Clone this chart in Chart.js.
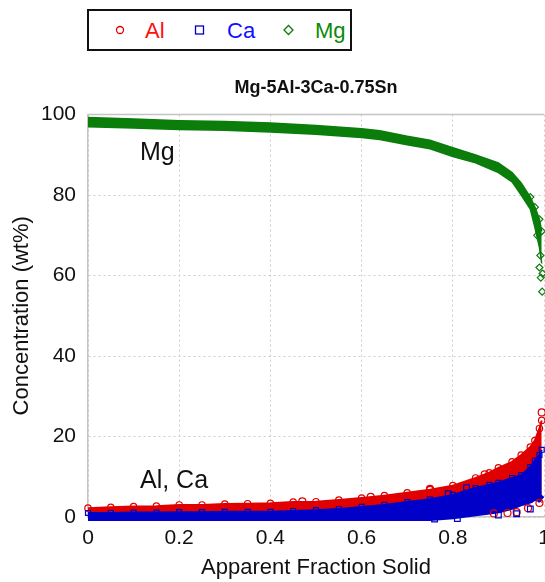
<!DOCTYPE html>
<html>
<head>
<meta charset="utf-8">
<script src="https://cdn.jsdelivr.net/npm/chart.js@4.4.1/dist/chart.umd.min.js"></script>
<style>
  html, body { margin: 0; padding: 0; background: #fff; overflow: hidden; width: 545px; height: 582px; }
  #wrap { position: relative; width: 600px; height: 582px; }
  #c { position: absolute; left: 0; top: 0; }
  #legend { position: absolute; left: 0; top: 0; }
</style>
</head>
<body>
<div id="wrap">
  <canvas id="c" width="600" height="582"></canvas>
  <svg id="legend" width="545" height="60" xmlns="http://www.w3.org/2000/svg"></svg>
</div>
<script>
// ---------------- DATA ----------------
const seriesNames = ['Al', 'Ca', 'Mg'];
const seriesColors = ['#e00000', '#0000c8', '#0a7d0a'];
const legendTextColors = ['#ff1010', '#1010ff', '#0a8a0a'];

const xTicks = [0, 0.2, 0.4, 0.6, 0.8, 1];
const yTicks = [0, 20, 40, 60, 80, 100];

// Al / Ca band (fraction solid positions)
const bandFrac = [0, 0.05, 0.1, 0.15, 0.2, 0.25, 0.3, 0.35, 0.4, 0.45, 0.5, 0.55, 0.6, 0.65, 0.7, 0.75, 0.8, 0.85, 0.88, 0.9, 0.93, 0.95, 0.97, 0.98, 0.99, 0.995];
const alUpper  = [2.2, 2.4, 2.6, 2.7, 3.0, 3.0, 3.2, 3.3, 3.4, 3.7, 3.8, 4.2, 4.7, 5.3, 6.0, 6.8, 7.8, 9.7, 11.0, 12.2, 13.7, 15.4, 17.4, 19.0, 22.0, 24.0];
const alLower  = [0.0, 0.0, 0.0, 0.0, 0.0, 0.0, 0.0, 0.0, 0.0, 0.0, 0.0, 0.0, 0.0, 0.0, 0.0, 0.0, 0.3, 0.9, 1.3, 1.6, 2.4, 3.2, 3.8, 4.5, 4.0, 3.6];
const caUpper  = [1.0, 1.0, 1.1, 1.1, 1.2, 1.2, 1.3, 1.3, 1.3, 1.5, 1.7, 2.0, 2.5, 3.0, 3.7, 4.4, 5.5, 7.2, 8.0, 8.5, 9.7, 10.4, 12.4, 14.0, 15.4, 16.7];
const caLower  = [0.0, 0.0, 0.0, 0.0, 0.0, 0.0, 0.0, 0.0, 0.0, 0.0, 0.0, 0.0, 0.0, 0.0, 0.0, 0.0, 0.4, 1.2, 1.6, 1.9, 2.8, 3.7, 4.4, 5.2, 4.7, 4.2];

// Mg band
const mgFrac  = [0, 0.1, 0.2, 0.3, 0.4, 0.5, 0.6, 0.64, 0.7, 0.75, 0.8, 0.85, 0.9, 0.93, 0.95, 0.97, 0.98, 0.99, 0.995];
const mgUpper = [99.3, 98.9, 98.5, 98.3, 97.9, 97.3, 96.5, 96.0, 94.6, 93.6, 91.8, 90.0, 88.0, 85.6, 83.0, 79.5, 77.0, 74.0, 71.0];
const mgLower = [97.0, 96.7, 96.3, 96.1, 95.7, 95.1, 94.3, 93.8, 92.5, 91.5, 89.6, 88.0, 85.6, 83.3, 80.0, 76.5, 72.0, 67.0, 63.0];

// scattered outlying points
const alOutFrac = [0.47, 0.62, 0.75, 0.87, 0.89, 0.92, 0.94, 0.965, 0.99, 0.995];
const alOutConc = [3.9, 5.0, 7.0, 10.6, 0.9, 1.0, 1.2, 2.2, 3.5, 26.0];
const caOutFrac = [0.76, 0.79, 0.81, 0.83, 0.9, 0.94, 0.97];
const caOutConc = [-0.5, 5.8, -0.4, 7.3, 0.5, 0.8, 2.0];
const mgOutFrac = [0.985, 0.99, 0.992, 0.993, 0.996, 0.997];
const mgOutConc = [70.0, 62.0, 65.0, 59.5, 56.0, 60.5];

// text labels inside the plot
const noteTexts = ['Mg', 'Al, Ca'];
const noteFrac  = [0.114, 0.114];
const noteConc  = [88.6, 7.2];

// ---------------- BUILD ----------------
const pts = (xs, ys) => xs.map((x, i) => ({ x: x, y: ys[i] }));
const FONT = '"Liberation Sans", Arial, sans-serif';
const hollow = 'rgba(0,0,0,0)';

const datasets = [
  // Mg band
  { data: pts(mgFrac, mgLower), borderColor: seriesColors[2], borderWidth: 1.5, pointRadius: 0, fill: false, order: 11 },
  { data: pts(mgFrac, mgUpper), borderColor: seriesColors[2], borderWidth: 1.5, backgroundColor: seriesColors[2],
    pointStyle: 'rectRot', pointRadius: c => (c.raw && c.raw.x > 0.96 ? 3.5 : 0), pointBorderColor: seriesColors[2],
    pointBackgroundColor: hollow, pointBorderWidth: 1.2, fill: '-1', order: 10 },
  // Al band
  { data: pts(bandFrac, alLower), borderColor: seriesColors[0], borderWidth: 1, pointRadius: 0, fill: false, order: 9 },
  { data: pts(bandFrac, alUpper), borderColor: seriesColors[0], borderWidth: 2, backgroundColor: seriesColors[0],
    pointStyle: 'circle', pointRadius: 3.2, pointBorderColor: seriesColors[0], pointBackgroundColor: hollow, pointBorderWidth: 1.2, fill: '-1', order: 8 },
  // Ca band
  { data: pts(bandFrac, caLower), borderColor: seriesColors[1], borderWidth: 8, pointRadius: 0, fill: false, order: 7 },
  { data: pts(bandFrac, caUpper), borderColor: seriesColors[1], borderWidth: 2, backgroundColor: seriesColors[1],
    pointStyle: 'rect', pointRadius: 3.5, pointBorderColor: seriesColors[1], pointBackgroundColor: hollow, pointBorderWidth: 1.2, fill: '-1', order: 6 },
  // outliers
  { data: pts(alOutFrac, alOutConc), showLine: false, pointStyle: 'circle', pointRadius: 3.5, pointBorderColor: seriesColors[0], pointBackgroundColor: hollow, pointBorderWidth: 1.2, order: 3 },
  { data: pts(caOutFrac, caOutConc), showLine: false, pointStyle: 'rect', pointRadius: 4, pointBorderColor: seriesColors[1], pointBackgroundColor: hollow, pointBorderWidth: 1.2, order: 2 },
  { data: pts(mgOutFrac, mgOutConc), showLine: false, pointStyle: 'rectRot', pointRadius: 3.5, pointBorderColor: seriesColors[2], pointBackgroundColor: hollow, pointBorderWidth: 1.2, order: 1 }
];
datasets.forEach(d => { d.clip = false; d.tension = 0; });

const frameAndNotes = {
  id: 'frameAndNotes',
  beforeDatasetsDraw(chart) {
    const { ctx, chartArea } = chart;
    ctx.save();
    ctx.strokeStyle = '#c4c4c4';
    ctx.lineWidth = 1.5;
    ctx.beginPath();
    ctx.moveTo(chartArea.left, chartArea.top);
    ctx.lineTo(chartArea.right, chartArea.top);
    ctx.stroke();
    ctx.restore();
  },
  afterDatasetsDraw(chart) {
    const { ctx, scales } = chart;
    ctx.save();
    ctx.fillStyle = '#111';
    ctx.font = '25px ' + FONT;
    ctx.textBaseline = 'alphabetic';
    ctx.textAlign = 'left';
    noteTexts.forEach((t, i) => {
      ctx.fillText(t, scales.x.getPixelForValue(noteFrac[i]), scales.y.getPixelForValue(noteConc[i]));
    });
    ctx.restore();
  }
};

new Chart(document.getElementById('c'), {
  type: 'line',
  data: { datasets: datasets },
  plugins: [frameAndNotes],
  options: {
    responsive: false,
    animation: false,
    parsing: false,
    layout: { padding: { left: 0, right: 56, top: 0, bottom: 0 } },
    plugins: {
      legend: { display: false },
      tooltip: { enabled: false },
      title: {
        display: true, text: 'Mg-5Al-3Ca-0.75Sn', fullSize: false, color: '#111',
        font: { family: FONT, size: 18, weight: 'bold' },
        padding: { top: 77, bottom: 16 }
      }
    },
    scales: {
      x: {
        type: 'linear', min: 0, max: 1,
        afterBuildTicks: s => { s.ticks = xTicks.map(v => ({ value: v })); },
        afterFit: s => { s.height = 65; },
        ticks: { color: '#111', font: { family: FONT, size: 21 }, padding: 9, maxRotation: 0, autoSkip: false,
                 callback: v => String(v) },
        grid: { color: '#cccccc', lineWidth: 1, drawTicks: false },
        border: { display: true, color: '#c4c4c4', width: 1.5, dash: [2, 3] },
        title: { display: true, text: 'Apparent Fraction Solid', color: '#111', font: { family: FONT, size: 22 }, padding: { top: 0, bottom: 1 } }
      },
      y: {
        type: 'linear', min: 0, max: 100,
        afterBuildTicks: s => { s.ticks = yTicks.map(v => ({ value: v })); },
        afterFit: s => { s.width = 88; },
        ticks: { color: '#111', font: { family: FONT, size: 21 }, padding: 12, autoSkip: false, callback: v => String(v) },
        grid: { color: '#cccccc', lineWidth: 1, drawTicks: false },
        border: { display: true, color: '#c4c4c4', width: 1.5, dash: [2, 3] },
        title: { display: true, text: 'Concentration (wt%)', color: '#111', font: { family: FONT, size: 22 }, padding: { top: 9, bottom: 0 } }
      }
    }
  }
});

// ---------------- LEGEND ----------------
(function () {
  const svg = document.getElementById('legend');
  const NS = 'http://www.w3.org/2000/svg';
  const mk = (tag, attrs, text) => {
    const el = document.createElementNS(NS, tag);
    Object.keys(attrs).forEach(k => el.setAttribute(k, attrs[k]));
    if (text) el.textContent = text;
    svg.appendChild(el);
    return el;
  };
  mk('rect', { x: 88, y: 10, width: 263, height: 40, fill: '#fff', stroke: '#111', 'stroke-width': 2 });
  const markerX = [120, 199.5, 288.5];
  const textX = [145, 227, 315];
  seriesNames.forEach((name, i) => {
    const cx = markerX[i], cy = 30, col = seriesColors[i];
    if (i === 0) mk('circle', { cx: cx, cy: cy, r: 3.5, fill: 'none', stroke: col, 'stroke-width': 1.3 });
    if (i === 1) mk('rect', { x: cx - 4, y: cy - 4, width: 8, height: 8, fill: 'none', stroke: col, 'stroke-width': 1.3 });
    if (i === 2) mk('polygon', { points: `${cx-4.5},${cy} ${cx},${cy-4.5} ${cx+4.5},${cy} ${cx},${cy+4.5}`, fill: 'none', stroke: col, 'stroke-width': 1.3 });
    mk('text', { x: textX[i], y: 38, fill: legendTextColors[i], 'font-family': 'Liberation Sans, Arial, sans-serif', 'font-size': 22 }, name);
  });
})();
</script>
</body>
</html>
